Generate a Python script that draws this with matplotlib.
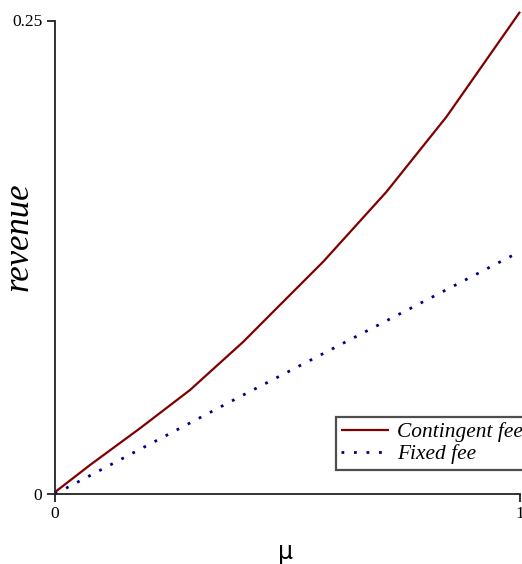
import matplotlib
matplotlib.use("Agg")
import matplotlib.pyplot as plt

# data
mu_cont = [0.0, 0.0753, 0.1828, 0.2903, 0.405, 0.4695, 0.577, 0.713, 0.842, 1.0]
rev_cont = [0.001, 0.0153, 0.0347, 0.0549, 0.0804, 0.0963, 0.1227, 0.1596, 0.1992, 0.2546]
mu_fixed = [0.0, 0.387, 1.0]
rev_fixed = [0.0, 0.0500, 0.128]
xticks = [0, 1]
xtick_labels = ["0", "1"]
yticks = [0, 0.25]
ytick_labels = ["0", "0.25"]
series_names = ["Contingent fee", "Fixed fee"]

W, H = 522, 564
x0, x1, y0, y1 = 55, 520, 494, 20.5
fig = plt.figure(figsize=(W/100, H/100), dpi=100)
ax = fig.add_axes([x0/W, 1-y0/H, (x1-x0)/W, (y0-y1)/H])

ax.plot(mu_cont, rev_cont, color="#800000", lw=1.6, label=series_names[0],
        solid_capstyle="butt", clip_on=False)
ax.plot(mu_fixed, rev_fixed, color="#000080", lw=2.0, linestyle=(0, (1, 3.5)),
        label=series_names[1], clip_on=False)

ax.set_xlim(0, 1)
ax.set_ylim(0, 0.25)
for s in ["top", "right"]:
    ax.spines[s].set_visible(False)
for s in ["left", "bottom"]:
    ax.spines[s].set_linewidth(1.3)
    ax.spines[s].set_color("#222222")
ax.set_xticks(xticks)
ax.set_xticklabels(xtick_labels)
ax.set_yticks(yticks)
ax.set_yticklabels(ytick_labels)
ax.tick_params(length=6, width=1.3, color="#222222", labelsize=12.5, pad=3)
for lab in ax.get_xticklabels() + ax.get_yticklabels():
    lab.set_family("Liberation Serif")

ax.set_ylabel("revenue", family="Liberation Serif", style="italic", fontsize=25)
ax.yaxis.set_label_coords(-19/(x1-x0), 1-(237-y1)/(y0-y1))
ax.set_xlabel("μ", family="DejaVu Sans", fontsize=17)
ax.xaxis.set_label_coords((286-x0)/(x1-x0), -46/(y0-y1))

leg = ax.legend(loc="upper left", bbox_to_anchor=(336/W, 1-417/H), bbox_transform=fig.transFigure,
                prop={"family": "Liberation Serif", "style": "italic", "size": 15.4},
                frameon=True, fancybox=False, edgecolor="#222222", borderpad=0.25,
                handlelength=2.25, handletextpad=0.37, labelspacing=0.1, borderaxespad=0)
leg.get_frame().set_linewidth(1.6)

fig.savefig("out.png", dpi=100)
